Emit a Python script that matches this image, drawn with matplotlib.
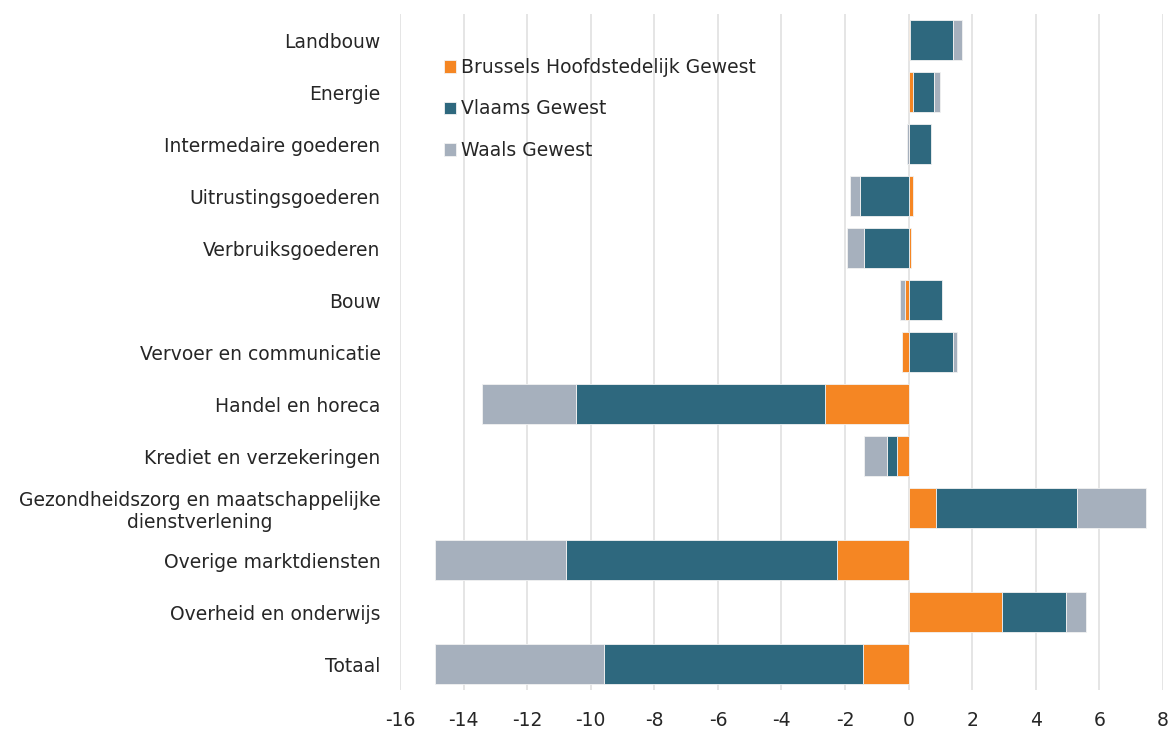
import matplotlib
matplotlib.use("Agg")
import matplotlib.pyplot as plt
import numpy as np

categories = [
    "Landbouw",
    "Energie",
    "Intermedaire goederen",
    "Uitrustingsgoederen",
    "Verbruiksgoederen",
    "Bouw",
    "Vervoer en communicatie",
    "Handel en horeca",
    "Krediet en verzekeringen",
    "Gezondheidszorg en maatschappelijke\ndienstverlening",
    "Overige marktdiensten",
    "Overheid en onderwijs",
    "Totaal",
]
series_names = ["Brussels Hoofdstedelijk Gewest", "Vlaams Gewest", "Waals Gewest"]
brussels = [0.03, 0.14, 0.02, 0.15, 0.07, -0.13, -0.20, -2.62, -0.37, 0.87, -2.24, 2.93, -1.43]
vlaams = [1.36, 0.67, 0.69, -1.53, -1.42, 1.05, 1.40, -7.85, -0.32, 4.43, -8.54, 2.01, -8.14]
waals = [0.29, 0.19, -0.04, -0.33, -0.51, -0.13, 0.12, -2.94, -0.72, 2.16, -4.11, 0.64, -5.32]
colors = ["#F58623", "#2E687E", "#A6B0BD"]
xticks = list(range(-16, 9, 2))

plt.rcParams['font.family'] = ['DejaVu Sans']
fig = plt.figure(figsize=(11.68, 7.29), dpi=100)
ax = fig.add_axes([400/1168, 1-690/729, 763/1168, 676/729])

y = np.arange(len(categories))
pos_base = np.zeros(len(categories))
neg_base = np.zeros(len(categories))
for name, vals, c in zip(series_names, [brussels, vlaams, waals], colors):
    v = np.array(vals)
    left = np.where(v >= 0, pos_base, neg_base)
    ax.barh(y, v, left=left, height=0.77, color=c, edgecolor="#F2F2F2", linewidth=0.6, label=name, zorder=3)
    pos_base = pos_base + np.where(v >= 0, v, 0)
    neg_base = neg_base + np.where(v < 0, v, 0)

ax.set_xlim(-16, 8)
ax.set_ylim(len(categories) - 0.5, -0.5)
ax.set_xticks(xticks)
ax.set_xticklabels([str(t) for t in xticks], fontsize=13.5, color="#262626")
ax.set_yticks(y)
ax.set_yticklabels(categories, fontsize=13.5, color="#262626")
for lab in ax.get_yticklabels():
    lab.set_multialignment("center")
ax.tick_params(length=0, pad=14, axis="y")
ax.tick_params(length=0, pad=15, axis="x")
for s in ax.spines.values():
    s.set_visible(False)
ax.grid(axis="x", color="#E0E0E0", linewidth=1.2, zorder=0)
ax.set_axisbelow(True)

leg = ax.legend(loc="upper left", bbox_to_anchor=(0.035, 0.96), frameon=False,
                fontsize=13.5, handlelength=0.65, handleheight=0.65, handletextpad=0.3,
                labelspacing=1.2, labelcolor="#262626")

fig.savefig("out.png", dpi=100)
